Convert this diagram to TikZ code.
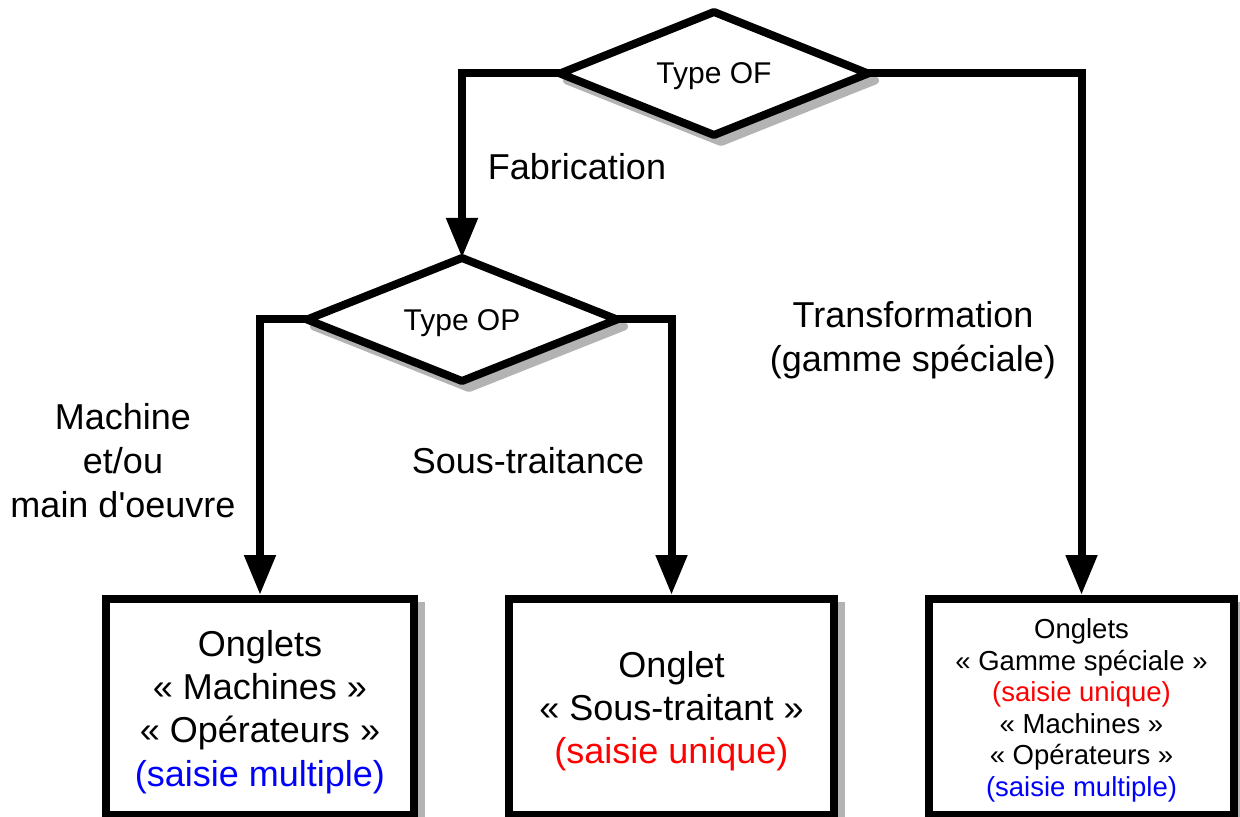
\documentclass[tikz,border=0pt]{standalone}
\usepackage{fontspec}
\setmainfont{Liberation Sans}
\usetikzlibrary{shapes.geometric,arrows.meta}
\definecolor{shadowgray}{HTML}{B3B3B3}
\definecolor{txtblue}{HTML}{0000FF}
\definecolor{txtred}{HTML}{FF0000}
\tikzset{
  shadowed/.style={preaction={draw=shadowgray,fill=shadowgray,transform canvas={shift={(3.5pt,-3.5pt)}}}},
  decision/.style={shape=diamond,draw=black,fill=white,line width=4pt,line join=round,inner sep=0pt,
    outer sep=0pt,aspect=2.5,font=\fontsize{15}{18}\selectfont,shadowed},
  outbox/.style={shape=rectangle,draw=black,fill=white,line width=4pt,inner sep=0pt,shadowed},
  bigtxt/.style={font=\fontsize{18}{21.6}\selectfont,align=center,inner sep=0pt},
  smalltxt/.style={font=\fontsize{13.75}{15.75}\selectfont,align=center,inner sep=0pt},
  conn/.style={draw=black,line width=4pt,line join=miter,-{Triangle[length=20pt,width=15pt]}},
  lbl/.style={font=\fontsize{18}{22}\selectfont,align=center,inner sep=0pt}
}
\begin{document}
\begin{tikzpicture}[x=0.5pt,y=-0.5pt]
\useasboundingbox (0,0) rectangle (1240,817);

\node[decision,minimum width=154pt,minimum height=61.5pt] (of) at (714,73.5) {\raisebox{-1.5pt}[\height][\depth]{Type OF}};
\node[decision,minimum width=155pt,minimum height=61.5pt] (op) at (462,319.5) {\raisebox{-2pt}[\height][\depth]{Type OP}};

\node[outbox,minimum width=154pt,minimum height=108pt] (b1) at (260,707) {};
\node[outbox,minimum width=162.5pt,minimum height=108pt] (b2) at (671.5,707) {};
\node[outbox,minimum width=152.5pt,minimum height=108pt] (b3) at (1081.5,707) {};

\node[bigtxt] (b1t) at ([yshift=-2.5pt]b1.center)
  {Onglets\\« Machines »\\« Opérateurs »\\\textcolor{txtblue}{(saisie multiple)}};
\node[bigtxt] (b2t) at ([yshift=-2pt]b2.center)
  {Onglet\\« Sous-traitant »\\\textcolor{txtred}{(saisie unique)}};
\node[smalltxt] (b3t) at ([yshift=-1.8pt]b3.center)
  {Onglets\\« Gamme spéciale »\\\textcolor{txtred}{(saisie unique)}\\« Machines »\\« Opérateurs »\\\textcolor{txtblue}{(saisie multiple)}};

\draw[conn] (of.west) -| (op.north);
\draw[conn] (of.east) -| (b3.north);
\draw[conn] (op.west) -| (b1.north);
\draw[conn] (op.east) -| (b2.north);

\node[lbl] (lfab) at (577,167) {Fabrication};
\node[lbl] (ltra) at (913,340) {Transformation\\(gamme spéciale)};
\node[lbl] (lmac) at (123,461) {Machine\\et/ou\\main d\textquotesingle oeuvre};
\node[lbl] (lsous) at (528,461) {Sous-traitance};
\end{tikzpicture}
\end{document}
